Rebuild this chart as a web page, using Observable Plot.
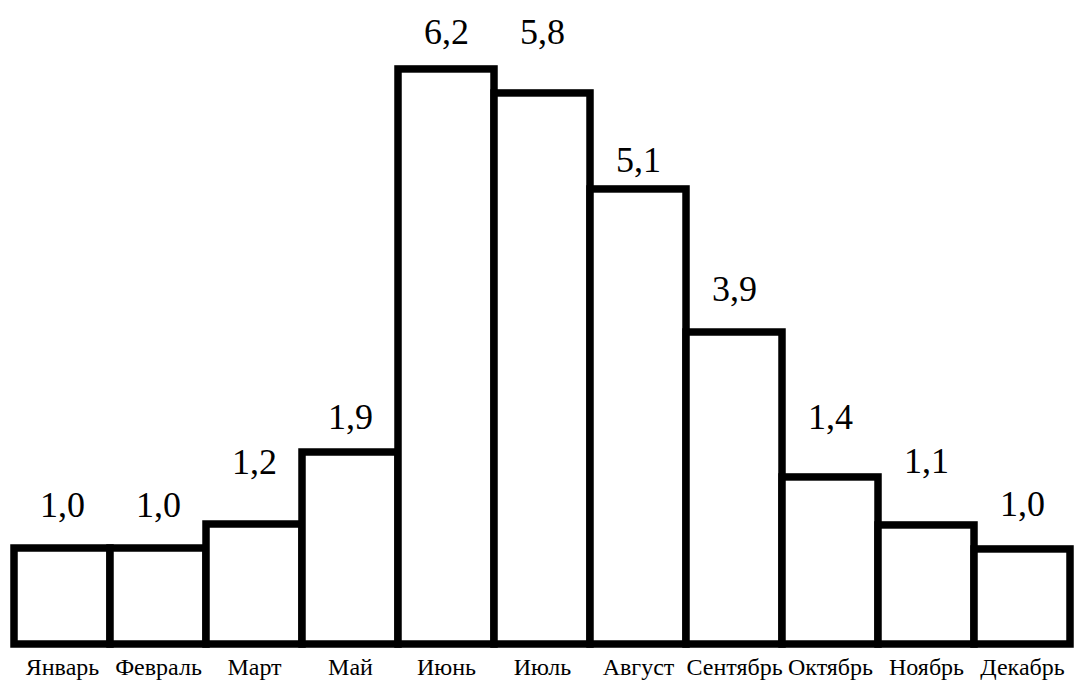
<!DOCTYPE html>
<html>
<head>
<meta charset="utf-8">
<script src="https://cdn.jsdelivr.net/npm/d3@7"></script>
<script src="https://cdn.jsdelivr.net/npm/@observablehq/plot@0.6"></script>
<style>
  html, body { margin: 0; padding: 0; background: #fff; }
  svg { display: block; }
</style>
</head>
<body>
<script>
// Categories (as shown; April is absent in the original)
const months = ["Январь", "Февраль", "Март", "Май", "Июнь", "Июль", "Август", "Сентябрь", "Октябрь", "Ноябрь", "Декабрь"];
// Value labels printed above the bars
const labels = ["1,0", "1,0", "1,2", "1,9", "6,2", "5,8", "5,1", "3,9", "1,4", "1,1", "1,0"];
// Drawn bar heights (chart units; the drawing is not to scale of the labels)
const barHeights = [1.0, 1.0, 1.25, 2.0, 5.99, 5.74, 4.74, 3.25, 1.74, 1.24, 0.99];
// Level (chart units) at which each value label sits in the picture
const labelLevels = [1.33, 1.33, 1.78, 2.24, 6.26, 6.26, 4.92, 3.58, 2.25, 1.79, 1.34];

const data = months.map((m, i) => ({
  month: m,
  h: barHeights[i],
  label: labels[i],
  ly: labelLevels[i]
}));

const font = "Liberation Serif, Times New Roman, serif";

const chart = Plot.plot({
  width: 1082,
  height: 681,
  marginLeft: 13.5,
  marginRight: 11,
  marginTop: 20,
  marginBottom: 37,
  style: { fontFamily: font, background: "#fff", color: "#000" },
  x: { domain: months, padding: 0, label: null },
  y: { domain: [0, 6.5], axis: null },
  marks: [
    Plot.barY(data, {
      x: "month", y: "h",
      fill: "white", stroke: "black", strokeWidth: 7.5, inset: 0
    }),
    Plot.text(data, {
      x: "month", y: "ly", text: "label",
      fontSize: 36, fontFamily: font, fill: "black",
      lineAnchor: "bottom", textAnchor: "middle"
    }),
    Plot.axisX({
      tickSize: 0, tickPadding: 13, fontSize: 24,
      fontFamily: font, label: null, fill: "black"
    })
  ]
});

document.body.appendChild(chart);
</script>
</body>
</html>
